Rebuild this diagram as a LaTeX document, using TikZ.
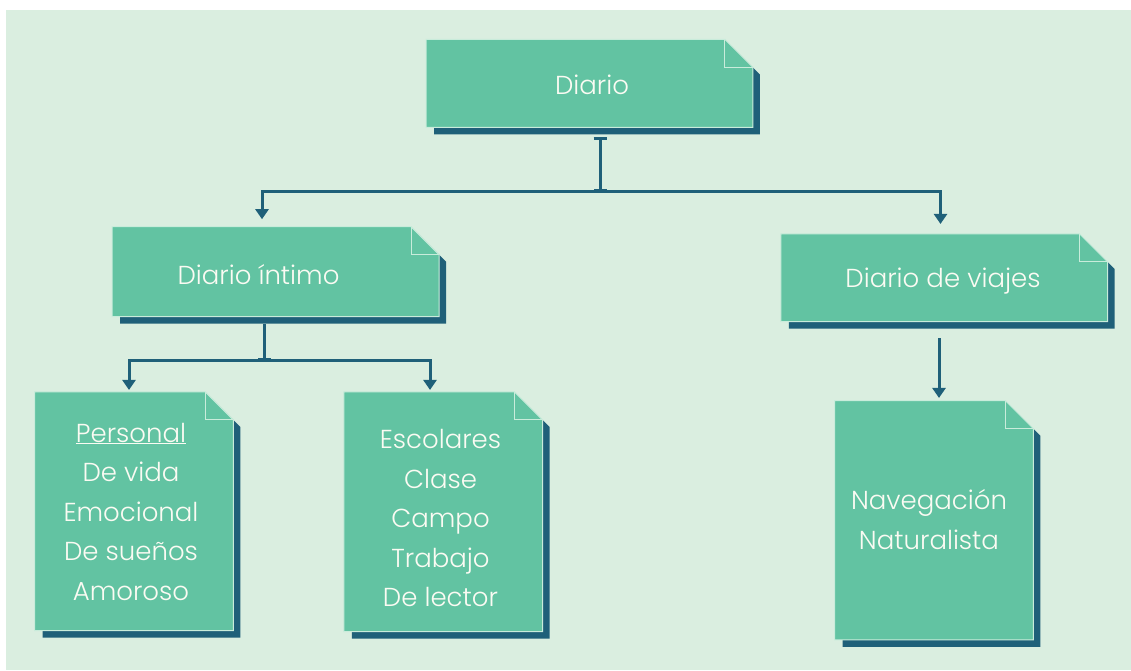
\documentclass[tikz,border=0pt]{standalone}
\usepackage{fontspec}
\setmainfont{Poppins Light}
\usetikzlibrary{arrows.meta}
\definecolor{bgc}{HTML}{DAEEE0}
\definecolor{boxc}{HTML}{62C3A2}
\definecolor{shc}{HTML}{1F6079}
\definecolor{edgec}{HTML}{C9ECDB}
\definecolor{txtc}{HTML}{FBFBF3}
\pgfdeclarelayer{bgl}
\pgfdeclarelayer{boxl}
\pgfsetlayers{bgl,boxl,main}
\tikzset{
  docbox/.style={draw=none, inner sep=0pt, outer sep=0pt},
  head/.style={text=txtc, inner sep=0pt, font=\fontsize{26}{30}\selectfont},
  listtext/.style={text=txtc, inner sep=0pt, align=center, font=\fontsize{26}{39.5}\selectfont},
  conn/.style={draw=shc, line width=3pt},
  arr/.style={-{Triangle[width=13pt,length=10pt]}},
  barboth/.style={{Bar[width=13pt]}-{Bar[width=13pt]}},
  barend/.style={-{Bar[width=13pt]}}
}
\newcommand\paintdoc[1]{%
  \begin{pgfonlayer}{boxl}
    \fill[shc] ([shift={(8pt,-7pt)}]#1.north west) -- ([shift={(-21pt,-7pt)}]#1.north east)
      -- ([shift={(7pt,-35pt)}]#1.north east) -- ([shift={(7pt,-7pt)}]#1.south east)
      -- ([shift={(8pt,-7pt)}]#1.south west) -- cycle;
    \filldraw[fill=boxc, draw=edgec, line width=1pt] (#1.north west) -- ([xshift=-28pt]#1.north east)
      -- ([yshift=-28pt]#1.north east) -- (#1.south east) -- (#1.south west) -- cycle;
    \draw[edgec, line width=1pt] ([xshift=-28pt]#1.north east) |- ([yshift=-28pt]#1.north east);
  \end{pgfonlayer}}
\begin{document}
\begin{tikzpicture}[x=1pt, y=-1pt]
  \useasboundingbox (0,0) rectangle (1131,670);
  \begin{pgfonlayer}{bgl}
    \fill[bgc] (6,10) rectangle (1131,670);
  \end{pgfonlayer}

  % boxes
  \node[docbox, minimum width=326.7pt, minimum height=88pt] (diario) at (589.4,83.3) {};
  \node[docbox, minimum width=327pt, minimum height=90pt] (intimo) at (275.5,271.7) {};
  \node[docbox, minimum width=326.7pt, minimum height=87.7pt] (viajes) at (944.3,277.8) {};
  \node[docbox, minimum width=198.7pt, minimum height=238.7pt] (personal) at (134,511.3) {};
  \node[docbox, minimum width=198.7pt, minimum height=239.7pt] (escolares) at (443.3,511.8) {};
  \node[docbox, minimum width=198.7pt, minimum height=239.3pt] (nav) at (934,520.3) {};
  \paintdoc{diario}
  \paintdoc{intimo}
  \paintdoc{viajes}
  \paintdoc{personal}
  \paintdoc{escolares}
  \paintdoc{nav}

  % texts
  \node[head] (diario-t) at (592,85) {Diario};
  \node[head] (intimo-t) at (258.5,275) {Diario íntimo};
  \node[head] (viajes-t) at (943,281) {Diario de viajes};
  \node[listtext] (personal-t) at (131,511.5) {\underline{Personal}\\De vida\\Emocional\\De sueños\\Amoroso};
  \node[listtext] (escolares-t) at (440.5,518) {Escolares\\Clase\\Campo\\Trabajo\\De lector};
  \node[listtext] (nav-t) at (929,519.5) {Navegación\\Naturalista};

  % connectors
  \coordinate (j1) at (600,191.5);
  \draw[conn, barboth] ([yshift=-10pt]diario.south -| j1) -- (j1);
  \draw[conn, arr] (j1) -| ([xshift=-13.5pt,yshift=7.5pt]intimo.north);
  \draw[conn, arr] (j1) -| ([xshift=-3.8pt,yshift=10pt]viajes.north);

  \coordinate (j2) at (264,360.5);
  \draw[conn, barend] ([yshift=-7.5pt]intimo.south -| j2) -- (j2);
  \draw[conn, arr] (j2) -| ([xshift=-5pt,yshift=2pt]personal.north);
  \draw[conn, arr] (j2) -| ([xshift=-13.3pt,yshift=2pt]escolares.north);

  \coordinate (v1) at (939,338);
  \draw[conn, arr, shorten >=2.7pt] (v1) -- (v1 |- nav.north);
\end{tikzpicture}
\end{document}
